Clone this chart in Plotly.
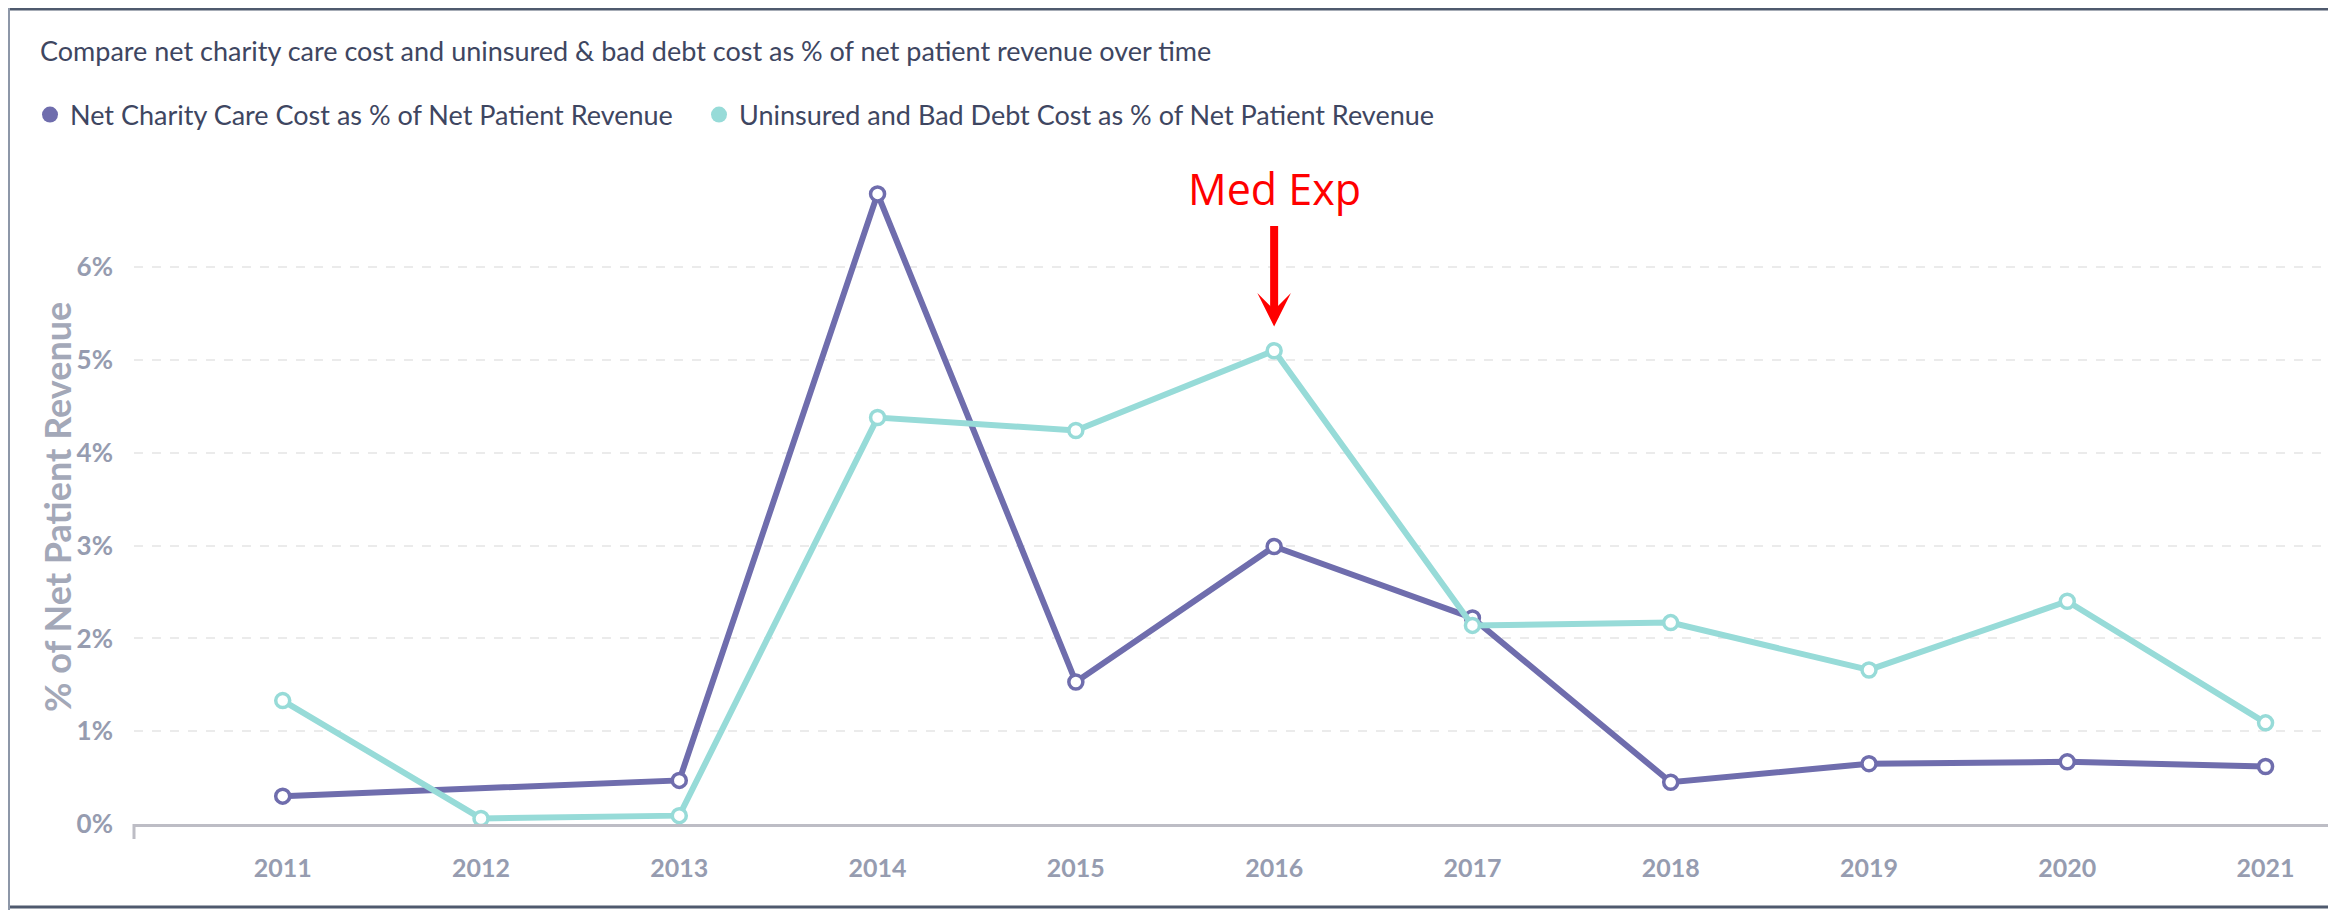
import plotly.graph_objects as go

years = [2011, 2012, 2013, 2014, 2015, 2016, 2017, 2018, 2019, 2020, 2021]
year_labels = [str(y) for y in years]
charity = [0.30, None, 0.47, 6.79, 1.53, 2.99, 2.22, 0.45, 0.65, 0.67, 0.62]
uninsured = [1.33, 0.06, 0.09, 4.38, 4.24, 5.10, 2.14, 2.17, 1.66, 2.40, 1.09]
y_ticks = [0, 1, 2, 3, 4, 5, 6]
y_tick_labels = [f"{v}%" for v in y_ticks]

name_charity = "Net Charity Care Cost as % of Net Patient Revenue"
name_unins = "Uninsured and Bad Debt Cost as % of Net Patient Revenue"
purple = "#6f6dad"
teal = "#97dbd8"

OFF = 8  # page body margin
W, H = 2336 - OFF, 910 - OFF
# plot area in screen pixels
SX0, SX1, SY0, SY1 = 134, 2331, 140, 824
ML, MR = SX0 - OFF, W - (SX1 - OFF)
MT, MB = SY0 - OFF, H - (SY1 - OFF)
PW, PH = W - ML - MR, H - MT - MB

def px_x(sx):
    return (sx - SX0) / PW

def px_y(sy):
    return (SY1 - sy) / PH

fig = go.Figure()
for name, vals, col, leg in [(name_charity, charity, purple, "legend"), (name_unins, uninsured, teal, "legend2")]:
    fig.add_trace(go.Scatter(
        x=years, y=vals, mode="lines+markers", connectgaps=True, showlegend=False,
        line=dict(color=col, width=6),
        marker=dict(size=14, color="white", line=dict(color=col, width=3.5)),
    ))
    fig.add_trace(go.Scatter(
        x=[None], y=[None], mode="markers", name=name, legend=leg,
        marker=dict(size=16, color=col),
    ))

text_col = "#3e4661"
leg_common = dict(
    orientation="h", yanchor="middle", xanchor="left",
    font=dict(family="Lato", size=27, color=text_col),
    itemsizing="trace", bgcolor="rgba(0,0,0,0)",
)
fig.update_layout(
    width=W, height=H,
    margin=dict(l=ML, r=MR, t=MT, b=MB),
    paper_bgcolor="white", plot_bgcolor="white",
    title=dict(
        text="Compare net charity care cost and uninsured & bad debt cost as % of net patient revenue over time",
        font=dict(family="Lato", size=27, color=text_col),
        xref="container", yref="container", x=(40 - OFF) / W, y=1 - (52 - OFF) / H,
        xanchor="left", yanchor="middle",
    ),
    legend=dict(x=px_x(30), y=px_y(115), **leg_common),
    legend2=dict(x=px_x(699), y=px_y(115), **leg_common),
    xaxis=dict(
        range=[2010.25, 2021.33], tickmode="array", tickvals=years, ticktext=year_labels,
        showgrid=False, zeroline=False, showline=True, linecolor="#bdbdc5", linewidth=3,
        ticks="", ticklabelstandoff=20,
        tickfont=dict(family="Lato", size=25, color="#969cb0", weight="bold"),
    ),
    yaxis=dict(
        range=[0, (SY1 - SY0) / 92.8], tickmode="array", tickvals=y_ticks, ticktext=y_tick_labels,
        showgrid=True, gridcolor="#ebebeb", griddash="dash", gridwidth=2,
        zeroline=False, showline=False, ticks="", ticklabelstandoff=20,
        tickfont=dict(family="Lato", size=26, color="#969cb0", weight="bold"),
    ),
    showlegend=True,
)

# y-axis title (placed as rotated text, centred where the reference has it)
fig.add_annotation(x=px_x(57), y=px_y(507), xref="paper", yref="paper",
                   text="% of Net Patient Revenue", textangle=-90, showarrow=False,
                   xanchor="center", yanchor="middle",
                   font=dict(family="Lato", size=36, color="#a3a8b8", weight="bold"))

# small tick at the left end of the baseline
fig.add_shape(type="line", xref="paper", yref="paper", x0=0, x1=0, y0=0, y1=-15 / PH,
              line=dict(color="#bdbdc5", width=3))

# annotation "Med Exp" with arrow pointing at 2016
fig.add_annotation(x=years[5], y=uninsured[5] + 0.26, xref="x", yref="y", text="",
                   showarrow=True, ax=0, ay=-102, arrowhead=3, arrowwidth=8,
                   arrowsize=0.7, arrowcolor="#ff0000")
fig.add_annotation(x=years[5], y=px_y(188), xref="x", yref="paper", text="Med Exp",
                   showarrow=False, font=dict(family="Open Sans", size=43, color="#ff0000"),
                   xanchor="center", yanchor="middle")

# frame around the card
dark = "#4f5a6e"
fig.add_shape(type="line", xref="paper", yref="paper", x0=px_x(0), x1=px_x(2336), y0=px_y(OFF + 1), y1=px_y(OFF + 1),
              line=dict(color=dark, width=3))
fig.add_shape(type="line", xref="paper", yref="paper", x0=px_x(0), x1=px_x(2336), y0=px_y(907), y1=px_y(907),
              line=dict(color=dark, width=3))
fig.add_shape(type="line", xref="paper", yref="paper", x0=px_x(2333), x1=px_x(2333), y0=px_y(0), y1=px_y(910),
              line=dict(color=dark, width=3))
fig.add_shape(type="line", xref="paper", yref="paper", x0=px_x(OFF + 1), x1=px_x(OFF + 1), y0=px_y(0), y1=px_y(910),
              line=dict(color="#8d97a8", width=2))

fig.write_html("out.html")
